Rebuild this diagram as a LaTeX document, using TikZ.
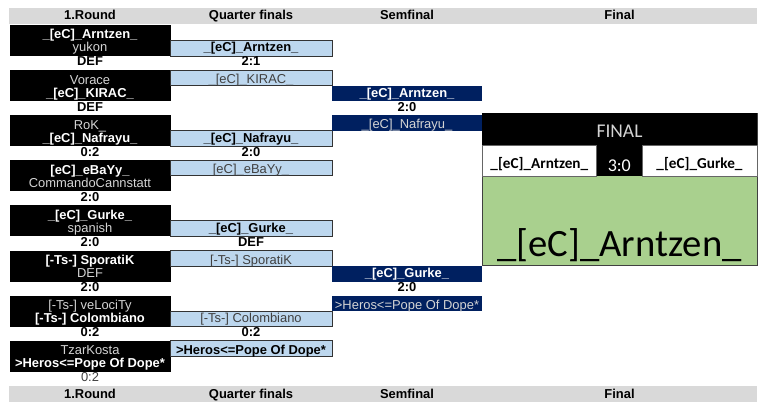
\documentclass[tikz,border=0pt]{standalone}
\usepackage{fontspec}
\setmainfont{Liberation Sans}
\newfontfamily\calfont{Carlito}
\definecolor{hdgray}{HTML}{D9D9D9}
\definecolor{qfblue}{HTML}{BDD7EE}
\definecolor{sfnavy}{HTML}{002060}
\definecolor{fingreen}{HTML}{A9D08E}
\definecolor{dimtext}{HTML}{D4D4D4}
\definecolor{greytext}{HTML}{404040}
\begin{document}
\begin{tikzpicture}[x=0.75pt,y=-0.75pt,
		every node/.style={inner sep=0pt,anchor=base,font=\fontsize{9.7}{11}\selectfont},
		bw/.style={text=white,font=\fontsize{9.7}{11}\selectfont\bfseries},
		gw/.style={text=dimtext},
		bk/.style={text=black,font=\fontsize{9.7}{11}\selectfont\bfseries},
		gk/.style={text=greytext},
		qfbox/.style={draw=black!80,fill=qfblue,line width=0.6pt},
		finname/.style={text=black,font=\calfont\fontsize{11.4}{14}\selectfont\bfseries}]
	\useasboundingbox (0,0) rectangle (762,409);
	% header rows
	\foreach \y/\n in {8/top,386/bot}{
		\fill[hdgray] (9,\y) rectangle (757,\y+16);
		\foreach \x/\t/\c in {90/{1.Round}/a,251/{Quarter finals}/b,407/Semfinal/c,619.5/Final/d}
		\node[bk] (h\n\c) at (\x,\y+12) {\t};
	}
	% 1. round
	\foreach \g/\ta/\sa/\tb/\sb/\ts/\ss in {
		0/{\_[eC]\_Arntzen\_}/bw/yukon/gw/DEF/bk,
		1/Vorace/gw/{\_[eC]\_KIRAC\_}/bw/DEF/bk,
		2/RoK\_/gw/{\_[eC]\_Nafrayu\_}/bw/0:2/bk,
		3/{[eC]\_eBaYy\_}/bw/CommandoCannstatt/gw/2:0/bk,
		4/{\_[eC]\_Gurke\_}/bw/spanish/gw/2:0/bk,
		5/{[-Ts-] SporatiK}/bw/DEF/gw/2:0/bk,
		6/{[-Ts-] veLociTy}/gw/{[-Ts-] Colombiano}/bw/0:2/bk,
		7/TzarKosta/gw/{>Heros<=Pope Of Dope*}/bw/0:2/gk}{
		\pgfmathsetmacro\T{25+45.1*\g}
		\fill[black] (10,\T) rectangle (170.5,\T+31);
		\node[\sa] (ra\g) at (90,\T+14) {\ta};
		\node[\sb] (rb\g) at (90,\T+27) {\tb};
		\node[\ss] (rs\g) at (90,\T+41) {\ts};
	}
	% quarter finals
	\foreach \g/\n/\tb/\sb/\ts/\ta/\sa in {
		0/1/{\_[eC]\_Arntzen\_}/bk/2:1/{\_[eC]\_KIRAC\_}/gk,
		2/3/{\_[eC]\_Nafrayu\_}/bk/2:0/{[eC]\_eBaYy\_}/gk,
		4/5/{\_[eC]\_Gurke\_}/bk/DEF/{[-Ts-] SporatiK}/gk,
		6/7/{[-Ts-] Colombiano}/gk/0:2/{>Heros<=Pope Of Dope*}/bk}{
		\pgfmathsetmacro\T{25+45.1*\g}
		\pgfmathsetmacro\U{25+45.1*\n}
		\draw[qfbox] (170.5,\T+15.5) rectangle (332,\T+31);
		\draw[qfbox] (170.5,\U) rectangle (332,\U+15.5);
		\node[\sb] (qb\g) at (251,\T+27) {\tb};
		\node[bk] (qs\g) at (251,\T+41) {\ts};
		\node[\sa] (qa\n) at (251,\U+13.5) {\ta};
	}
	% semifinals
	\foreach \g/\n/\tb/\ts/\ta in {
		1/2/{\_[eC]\_Arntzen\_}/2:0/{\_[eC]\_Nafrayu\_},
		5/6/{\_[eC]\_Gurke\_}/2:0/{>Heros<=Pope Of Dope*}}{
		\pgfmathsetmacro\T{25+45.1*\g}
		\pgfmathsetmacro\U{25+45.1*\n}
		\fill[sfnavy] (332,\T+15.5) rectangle (482,\T+31);
		\fill[sfnavy] (332,\U) rectangle (482,\U+15.5);
		\node[bw] (sb\g) at (407,\T+27) {\tb};
		\node[bk] (ss\g) at (407,\T+41) {\ts};
		\node[gw] (sa\n) at (407,\U+13.5) {\ta};
	}
	% final
	\draw[black!75,fill=fingreen] (482,113.5) rectangle (757,265.5);
	\fill[black] (482,113.5) rectangle (757,145.5);
	\fill[black] (596.5,145.5) rectangle (642,176);
	\draw[black!60,fill=white] (482,145.5) rectangle (596.5,176);
	\draw[black!60,fill=white] (642,145.5) rectangle (757,176);
	\node[text=dimtext,font=\calfont\fontsize{14.6}{17}\selectfont] (fhead) at (619.5,138) {FINAL};
	\node[finname] (fleft) at (539.3,168.5) {\_[eC]\_Arntzen\_};
	\node[text=white,font=\calfont\fontsize{13.5}{16}\selectfont] (fscore) at (619.3,171.5) {3:0};
	\node[finname] (fright) at (699.5,168.5) {\_[eC]\_Gurke\_};
	\node[text=black,font=\calfont\fontsize{29}{34}\selectfont] (fwin) at (619.5,257) {\_[eC]\_Arntzen\_};
\end{tikzpicture}
\end{document}
